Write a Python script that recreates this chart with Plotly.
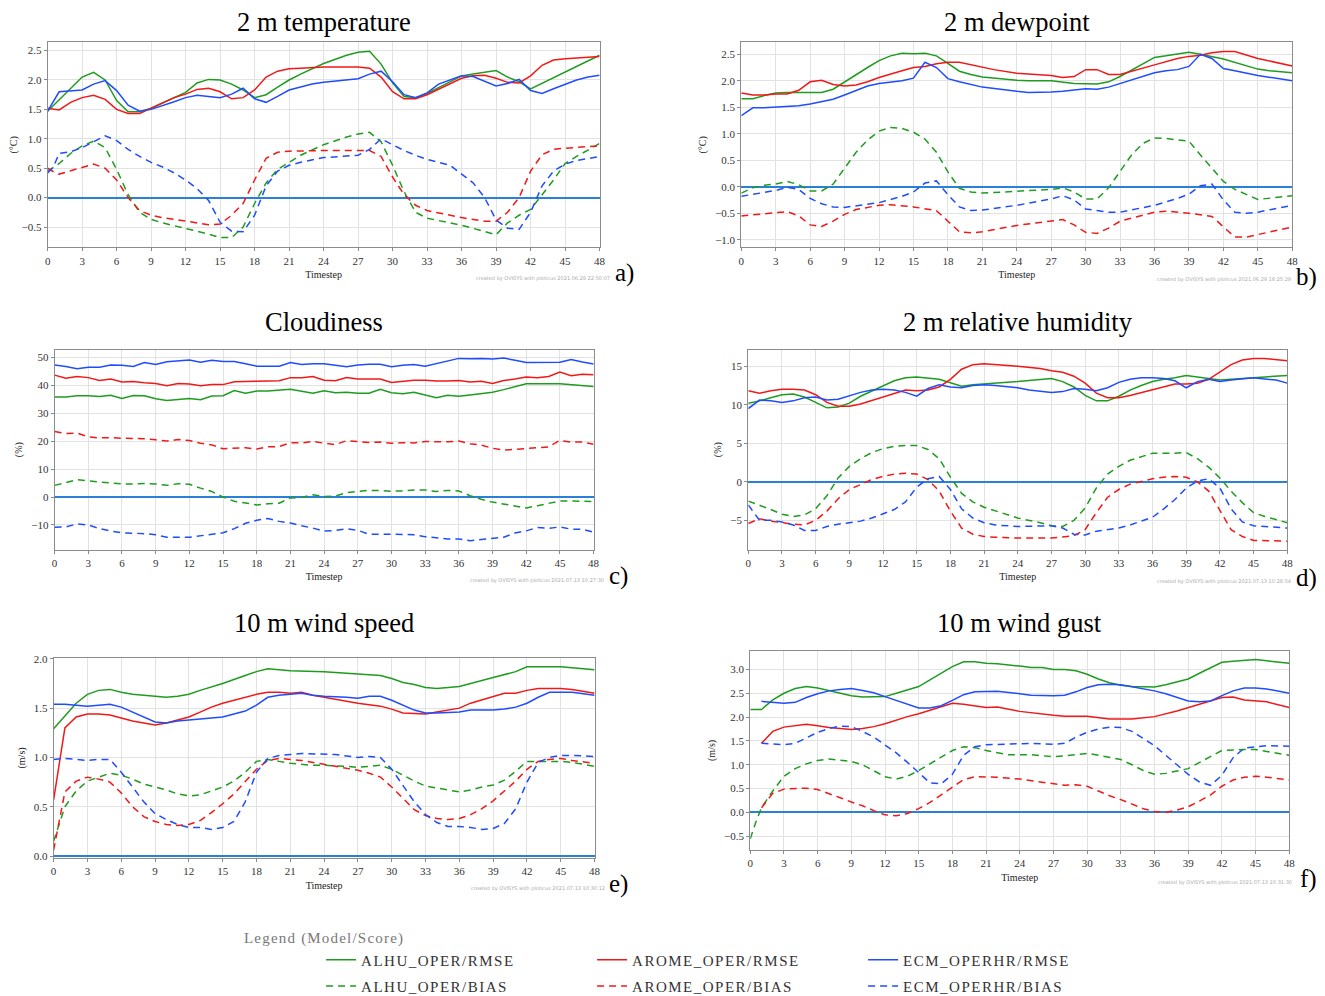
import plotly.graph_objects as go

# ---------------- data ----------------
MODELS = ["ALHU_OPER", "AROME_OPER", "ECM_OPERHR"]
SCORES = ["RMSE", "BIAS"]
X_TICKS = list(range(0, 49, 3))

# a) 2 m temperature
T2M_ALHU_RMSE = [(0,1.47),(3,2.05),(4,2.13),(5,2.0),(6,1.65),(7,1.46),(8,1.46),(9,1.52),(12,1.79),(13,1.95),(14,2.01),(15,2.0),(16,1.93),(17,1.83),(18,1.70),(19,1.75),(20,1.88),(21,2.0),(22,2.1),(24,2.28),(26,2.42),(27,2.47),(28,2.49),(29,2.27),(30,1.95),(31,1.72),(32,1.70),(33,1.77),(34,1.87),(36,2.07),(37,2.10),(39,2.16),(40,2.05),(41,1.97),(42,1.85),(48,2.42)]
T2M_AROME_RMSE = [(0,1.52),(1,1.49),(2,1.62),(3,1.70),(4,1.74),(5,1.67),(6,1.50),(7,1.43),(8,1.43),(9,1.52),(10,1.60),(11,1.70),(12,1.76),(13,1.84),(14,1.86),(15,1.80),(16,1.68),(17,1.70),(18,1.83),(19,2.05),(20,2.15),(21,2.19),(22,2.20),(24,2.22),(27,2.22),(28,2.20),(29,2.05),(30,1.80),(31,1.68),(32,1.68),(33,1.75),(36,2.03),(37,2.07),(38,2.08),(39,2.03),(40,1.96),(41,1.95),(42,2.07),(43,2.25),(44,2.34),(45,2.36),(48,2.40)]
T2M_ECM_RMSE = [(0,1.47),(1,1.80),(3,1.83),(4,1.93),(5,1.99),(6,1.82),(7,1.57),(8,1.47),(9,1.50),(10,1.56),(11,1.63),(12,1.70),(13,1.74),(14,1.72),(15,1.70),(16,1.76),(17,1.86),(18,1.68),(19,1.62),(20,1.72),(21,1.83),(22,1.88),(23,1.93),(24,1.96),(27,2.02),(28,2.10),(29,2.15),(30,1.97),(31,1.75),(32,1.70),(33,1.78),(34,1.93),(35,2.0),(36,2.07),(37,2.06),(38,1.98),(39,1.90),(40,1.94),(41,2.01),(42,1.82),(43,1.77),(44,1.85),(45,1.93),(46,2.0),(47,2.05),(48,2.08)]
T2M_ALHU_BIAS = [(0,0.45),(1,0.58),(2,0.75),(3,0.88),(4,0.96),(5,0.85),(6,0.48),(7,0.05),(8,-0.25),(9,-0.37),(10,-0.43),(12,-0.52),(14,-0.62),(15,-0.68),(16,-0.68),(17,-0.5),(18,-0.1),(19,0.25),(20,0.48),(21,0.6),(22,0.72),(24,0.90),(26,1.03),(27,1.08),(28,1.11),(29,0.95),(30,0.55),(31,0.1),(32,-0.25),(33,-0.35),(36,-0.47),(39,-0.63),(40,-0.43),(41,-0.3),(42,-0.2),(43,0.05),(44,0.3),(45,0.58),(46,0.7),(48,0.92)]
T2M_AROME_BIAS = [(0,0.50),(0.5,0.44),(1,0.40),(2,0.46),(3,0.52),(4,0.57),(5,0.50),(6,0.30),(7,0.0),(8,-0.22),(9,-0.30),(10,-0.34),(12,-0.40),(14,-0.46),(15,-0.45),(16,-0.3),(17,-0.1),(18,0.3),(19,0.67),(20,0.77),(21,0.79),(24,0.80),(28,0.80),(29,0.70),(30,0.35),(31,0.05),(32,-0.13),(33,-0.22),(36,-0.34),(38,-0.40),(39,-0.40),(40,-0.25),(41,0.0),(42,0.45),(43,0.73),(44,0.82),(45,0.84),(48,0.88)]
T2M_ECM_BIAS = [(0,0.42),(0.5,0.52),(1,0.75),(2,0.78),(3,0.85),(4,0.95),(5,1.05),(6,0.97),(7,0.82),(8,0.70),(9,0.60),(10,0.52),(11,0.42),(12,0.30),(13,0.15),(14,-0.05),(15,-0.42),(16,-0.57),(17,-0.58),(18,-0.3),(19,0.2),(20,0.45),(21,0.55),(22,0.6),(24,0.68),(27,0.72),(28,0.82),(29,1.0),(30,0.9),(31,0.8),(32,0.72),(33,0.65),(35,0.55),(36,0.40),(37,0.25),(38,0.0),(39,-0.38),(40,-0.52),(41,-0.54),(42,-0.25),(43,0.2),(44,0.45),(45,0.57),(46,0.63),(48,0.70)]

# b) 2 m dewpoint
TD_ALHU_RMSE = [(0,1.66),(1,1.66),(2,1.72),(3,1.77),(4,1.78),(5,1.78),(6,1.77),(7,1.78),(8,1.84),(9,1.98),(10,2.12),(11,2.25),(12,2.38),(13,2.47),(14,2.52),(15,2.51),(16,2.52),(17,2.47),(18,2.33),(19,2.18),(20,2.12),(21,2.07),(24,2.01),(25,2.0),(27,2.0),(28,1.98),(29,1.95),(31,1.94),(32,1.98),(33,2.08),(34,2.2),(35,2.32),(36,2.44),(37,2.47),(38,2.51),(39,2.54),(40,2.50),(42,2.41),(45,2.22),(46,2.19),(48,2.15)]
TD_AROME_RMSE = [(0,1.77),(1,1.73),(2,1.73),(3,1.75),(4,1.75),(5,1.82),(6,1.98),(7,2.01),(8,1.93),(9,1.90),(10,1.92),(11,1.98),(12,2.06),(13,2.13),(14,2.19),(15,2.25),(16,2.27),(17,2.32),(18,2.35),(19,2.35),(20,2.30),(21,2.25),(22,2.21),(24,2.14),(27,2.10),(28,2.06),(29,2.08),(30,2.21),(31,2.21),(32,2.12),(33,2.12),(36,2.30),(38,2.42),(39,2.46),(40,2.48),(41,2.53),(42,2.55),(43,2.55),(45,2.42),(48,2.28)]
TD_ECM_RMSE = [(0,1.34),(1,1.49),(2,1.49),(3,1.50),(4,1.52),(5,1.53),(6,1.56),(7,1.60),(8,1.65),(9,1.73),(10,1.82),(11,1.90),(12,1.95),(13,1.98),(14,2.0),(15,2.05),(16,2.35),(17,2.25),(18,2.04),(19,1.98),(21,1.88),(24,1.80),(25,1.78),(27,1.79),(28,1.80),(30,1.85),(31,1.84),(32,1.88),(34,2.02),(36,2.15),(37,2.19),(38,2.21),(39,2.27),(40,2.50),(41,2.42),(42,2.23),(43,2.19),(45,2.10),(48,2.00)]
TD_ALHU_BIAS = [(0,-0.12),(1,-0.02),(2,0.03),(3,0.05),(4,0.10),(5,0.04),(6,-0.08),(7,-0.08),(8,0.05),(9,0.35),(10,0.65),(11,0.88),(12,1.05),(13,1.12),(14,1.10),(15,1.03),(16,0.90),(17,0.65),(18,0.28),(19,-0.03),(20,-0.10),(21,-0.12),(24,-0.09),(25,-0.08),(27,-0.05),(28,-0.02),(29,-0.1),(30,-0.23),(31,-0.23),(32,-0.02),(33,0.3),(34,0.6),(35,0.82),(36,0.92),(37,0.91),(38,0.88),(39,0.86),(40,0.6),(41,0.35),(42,0.1),(43,-0.05),(44,-0.15),(45,-0.24),(48,-0.17)]
TD_AROME_BIAS = [(0,-0.55),(3,-0.50),(4,-0.47),(5,-0.55),(6,-0.72),(7,-0.75),(8,-0.65),(9,-0.52),(10,-0.43),(12,-0.35),(13,-0.34),(15,-0.38),(17,-0.45),(18,-0.65),(19,-0.85),(20,-0.87),(21,-0.85),(24,-0.73),(27,-0.65),(28,-0.62),(29,-0.72),(30,-0.86),(31,-0.88),(32,-0.78),(33,-0.65),(36,-0.48),(37,-0.46),(39,-0.50),(41,-0.56),(42,-0.75),(43,-0.95),(44,-0.95),(45,-0.90),(48,-0.76)]
TD_ECM_BIAS = [(0,-0.18),(3,-0.07),(4,-0.01),(5,-0.05),(6,-0.22),(7,-0.32),(8,-0.38),(9,-0.39),(12,-0.30),(14,-0.18),(15,-0.10),(16,0.07),(17,0.11),(18,-0.15),(19,-0.38),(20,-0.45),(21,-0.44),(24,-0.35),(27,-0.23),(28,-0.17),(29,-0.25),(30,-0.42),(32,-0.48),(33,-0.48),(36,-0.35),(38,-0.22),(39,-0.14),(40,0.02),(41,0.05),(42,-0.25),(43,-0.48),(44,-0.50),(45,-0.48),(48,-0.35)]

# c) Cloudiness
CL_ALHU_RMSE = [(0,35.9),(1,35.9),(2,36.3),(3,36.3),(4,36.0),(5,36.5),(6,35.3),(7,36.4),(8,36.3),(9,35.2),(10,34.6),(11,35.0),(12,35.3),(13,34.9),(14,36.2),(15,36.3),(16,38.2),(17,37.2),(18,38.0),(19,38.0),(20,38.2),(21,38.6),(22,37.9),(23,37.2),(24,38.1),(25,37.4),(26,37.6),(27,37.2),(28,37.2),(29,38.6),(30,37.4),(31,37.0),(32,37.6),(33,36.6),(34,35.6),(35,36.5),(36,36.1),(37,36.6),(38,37.1),(39,37.6),(40,38.5),(41,39.5),(42,40.6),(45,40.6),(46,40.2),(47,40.0),(48,39.6)]
CL_AROME_RMSE = [(0,43.7),(1,42.6),(2,43.2),(3,42.8),(4,41.8),(5,42.3),(6,41.2),(7,41.4),(8,41.0),(9,40.7),(10,39.9),(11,40.7),(12,40.5),(13,39.9),(14,40.3),(15,40.3),(16,41.3),(17,41.3),(18,41.5),(19,41.6),(20,41.7),(21,42.8),(22,42.8),(23,43.2),(24,41.9),(25,41.7),(26,42.8),(27,42.3),(28,42.3),(29,42.3),(30,41.1),(31,41.6),(32,41.9),(33,41.9),(34,41.6),(35,41.6),(36,41.8),(37,41.2),(38,41.5),(39,40.7),(40,41.8),(41,42.3),(42,43.0),(43,42.8),(44,43.2),(45,44.8),(46,43.5),(47,44.0),(48,43.8)]
CL_ECM_RMSE = [(0,47.3),(1,46.8),(2,46.0),(3,46.5),(4,46.5),(5,47.3),(6,47.2),(7,46.8),(8,48.2),(9,47.5),(10,48.5),(11,48.9),(12,49.1),(13,48.3),(14,49.0),(15,48.6),(16,48.6),(17,47.8),(18,46.9),(20,46.9),(21,48.2),(22,47.5),(23,47.8),(24,47.8),(25,47.3),(26,46.7),(27,47.3),(28,47.6),(29,47.6),(30,46.7),(31,47.2),(32,47.5),(33,46.9),(34,47.8),(35,48.8),(36,49.7),(37,49.6),(38,49.7),(39,49.5),(40,49.8),(41,49.0),(42,48.2),(45,48.3),(46,49.3),(47,48.4),(48,47.7)]
CL_ALHU_BIAS = [(0,4.2),(1,5.3),(2,6.2),(3,5.8),(4,5.5),(5,5.0),(6,4.7),(7,4.7),(8,4.9),(9,4.7),(10,4.2),(11,4.8),(12,4.6),(13,3.2),(14,2.0),(15,0.0),(16,-1.5),(17,-2.1),(18,-2.8),(19,-2.4),(20,-2.2),(21,-0.3),(22,-0.1),(23,0.8),(24,0.2),(25,0.4),(26,1.6),(27,2.0),(28,2.4),(29,2.4),(30,2.1),(31,2.2),(32,2.5),(33,2.5),(34,2.0),(35,2.4),(36,2.2),(37,0.5),(38,-0.8),(39,-1.8),(40,-2.5),(41,-3.2),(42,-3.9),(43,-3.1),(44,-2.3),(45,-1.4),(46,-1.4),(47,-1.5),(48,-1.6)]
CL_AROME_BIAS = [(0,23.5),(1,22.8),(2,22.9),(3,21.6),(4,21.2),(5,21.3),(6,21.1),(7,21.1),(8,20.9),(9,20.5),(10,20.1),(11,20.6),(12,20.3),(13,19.3),(14,18.7),(15,17.3),(16,17.4),(17,17.7),(18,17.2),(19,18.0),(20,18.1),(21,19.5),(22,19.4),(23,20.0),(24,19.3),(25,18.8),(26,20.2),(27,19.8),(28,19.6),(29,19.7),(30,19.3),(31,19.5),(32,19.4),(33,19.9),(34,19.9),(35,19.8),(36,20.1),(37,19.1),(38,18.6),(39,17.5),(40,16.8),(41,17.1),(42,17.2),(43,17.6),(44,18.0),(45,20.3),(46,19.7),(47,19.7),(48,18.9)]
CL_ECM_BIAS = [(0,-10.8),(1,-10.7),(2,-9.6),(3,-10.0),(4,-11.3),(5,-12.2),(6,-12.8),(7,-12.9),(8,-13.1),(9,-13.5),(10,-14.4),(12,-14.4),(13,-13.8),(14,-13.2),(15,-12.8),(16,-11.3),(17,-9.4),(18,-8.3),(19,-7.7),(20,-8.7),(21,-9.3),(22,-10.3),(23,-11.1),(24,-12.2),(25,-12.0),(26,-11.3),(27,-11.9),(28,-13.3),(29,-13.2),(30,-13.3),(31,-13.4),(32,-13.5),(33,-14.2),(34,-14.6),(35,-15.0),(36,-15.0),(37,-15.6),(38,-15.2),(39,-14.9),(40,-14.4),(41,-12.9),(42,-12.1),(43,-10.9),(44,-11.2),(45,-10.7),(46,-11.5),(47,-11.5),(48,-12.6)]

# d) 2 m relative humidity
RH_ALHU_RMSE = [(0,10.2),(1,10.5),(2,10.9),(3,11.3),(4,11.4),(5,11.0),(6,10.3),(7,9.6),(8,9.7),(9,10.2),(10,11.1),(12,12.4),(13,13.1),(14,13.5),(15,13.6),(17,13.3),(18,12.8),(19,12.4),(20,12.6),(21,12.7),(24,13.0),(27,13.4),(28,13.0),(29,12.3),(30,11.2),(31,10.5),(32,10.5),(33,11.1),(34,11.9),(35,12.5),(36,13.0),(37,13.3),(38,13.5),(39,13.8),(40,13.6),(41,13.4),(42,13.2),(45,13.5),(48,13.8)]
RH_AROME_RMSE = [(0,11.8),(1,11.5),(2,11.8),(3,12.0),(4,12.0),(5,11.9),(6,11.3),(7,10.3),(8,9.8),(9,9.8),(10,10.1),(12,11.0),(14,11.9),(15,11.8),(16,11.9),(17,12.3),(18,13.3),(19,14.6),(20,15.2),(21,15.3),(22,15.2),(24,15.0),(26,14.7),(27,14.4),(28,14.2),(29,13.7),(30,12.8),(31,11.5),(32,10.9),(33,10.9),(34,11.2),(36,12.0),(38,12.7),(39,12.7),(40,12.8),(41,13.3),(42,14.2),(43,15.2),(44,15.8),(45,16.0),(46,16.0),(48,15.7)]
RH_ECM_RMSE = [(0,9.5),(1,10.6),(2,10.5),(3,10.3),(4,10.5),(5,10.9),(6,11.0),(7,10.6),(8,10.7),(9,11.2),(10,11.6),(11,11.9),(12,12.0),(13,11.9),(14,11.6),(15,11.1),(16,12.1),(17,12.6),(18,12.3),(19,12.2),(20,12.5),(21,12.6),(22,12.5),(24,12.2),(25,11.9),(27,11.6),(28,11.7),(29,12.1),(30,12.0),(31,11.8),(32,12.2),(33,12.9),(34,13.3),(35,13.5),(36,13.5),(37,13.4),(38,13.1),(39,12.2),(40,13.0),(41,13.3),(42,13.0),(43,13.2),(45,13.5),(47,13.2),(48,12.8)]
RH_ALHU_BIAS = [(0,-2.5),(1,-3.0),(2,-3.6),(3,-4.2),(4,-4.5),(5,-4.3),(6,-3.5),(7,-1.8),(8,0.5),(9,2.0),(10,3.0),(11,3.8),(12,4.3),(13,4.6),(14,4.7),(15,4.7),(16,4.2),(17,3.0),(18,0.6),(19,-1.5),(20,-2.6),(21,-3.3),(22,-3.8),(24,-4.7),(26,-5.3),(27,-5.7),(28,-5.8),(29,-5.0),(30,-3.4),(31,-0.8),(32,1.0),(33,2.0),(34,2.8),(35,3.3),(36,3.7),(38,3.7),(39,3.8),(40,3.0),(41,1.9),(42,0.5),(43,-1.2),(44,-2.7),(45,-4.0),(46,-4.5),(47,-4.9),(48,-5.3)]
RH_AROME_BIAS = [(0,-5.4),(1,-4.8),(2,-5.1),(3,-5.3),(4,-5.5),(5,-5.6),(6,-5.0),(7,-3.8),(8,-2.2),(9,-1.0),(10,-0.3),(11,0.3),(12,0.7),(13,1.0),(14,1.1),(15,1.0),(16,0.3),(17,-1.2),(18,-3.8),(19,-6.0),(20,-6.8),(21,-7.1),(22,-7.2),(24,-7.3),(27,-7.3),(29,-7.0),(30,-6.2),(31,-4.0),(32,-2.0),(33,-1.0),(34,-0.3),(35,0.1),(36,0.4),(37,0.6),(38,0.7),(39,0.6),(40,0.0),(41,-1.2),(42,-3.8),(43,-6.2),(44,-7.1),(45,-7.6),(48,-7.7)]
RH_ECM_BIAS = [(0,-3.0),(1,-5.0),(2,-5.0),(3,-5.2),(4,-5.6),(5,-6.3),(6,-6.3),(7,-5.8),(8,-5.5),(9,-5.3),(10,-5.1),(11,-4.7),(12,-4.2),(13,-3.6),(14,-2.6),(15,-0.7),(16,0.4),(17,0.7),(18,-1.0),(19,-3.5),(20,-4.7),(21,-5.3),(22,-5.6),(24,-5.8),(27,-5.7),(28,-6.0),(29,-6.8),(30,-6.9),(31,-6.4),(33,-6.0),(34,-5.6),(35,-5.1),(36,-4.6),(37,-3.5),(38,-2.3),(39,-0.8),(40,0.1),(41,0.4),(42,-0.8),(43,-3.5),(44,-5.2),(45,-5.7),(48,-6.0)]

# e) 10 m wind speed
WS_ALHU_RMSE = [(0,1.29),(1,1.42),(2,1.55),(3,1.64),(4,1.68),(5,1.69),(6,1.66),(7,1.64),(8,1.63),(9,1.62),(10,1.61),(11,1.62),(12,1.64),(13,1.68),(15,1.75),(17,1.83),(18,1.87),(19,1.90),(20,1.89),(21,1.88),(24,1.87),(27,1.85),(29,1.83),(30,1.80),(31,1.76),(32,1.74),(33,1.71),(34,1.70),(36,1.72),(39,1.81),(41,1.87),(42,1.92),(45,1.92),(48,1.89)]
WS_AROME_RMSE = [(0,0.57),(1,1.30),(2,1.41),(3,1.44),(4,1.44),(5,1.43),(6,1.40),(7,1.37),(8,1.35),(9,1.33),(10,1.35),(12,1.41),(13,1.46),(14,1.51),(15,1.55),(17,1.61),(18,1.64),(19,1.66),(20,1.66),(21,1.65),(22,1.66),(23,1.63),(24,1.61),(27,1.55),(29,1.52),(30,1.49),(31,1.45),(33,1.44),(34,1.46),(36,1.50),(37,1.55),(39,1.62),(40,1.65),(41,1.65),(42,1.68),(43,1.70),(45,1.70),(46,1.69),(48,1.65)]
WS_ECM_RMSE = [(0,1.54),(1,1.54),(2,1.53),(3,1.52),(4,1.53),(5,1.54),(6,1.51),(7,1.46),(8,1.41),(9,1.36),(10,1.35),(11,1.37),(12,1.38),(13,1.39),(14,1.40),(15,1.41),(16,1.44),(17,1.47),(18,1.53),(19,1.61),(20,1.63),(21,1.64),(22,1.65),(23,1.63),(24,1.62),(26,1.61),(27,1.60),(28,1.62),(29,1.62),(30,1.58),(31,1.53),(32,1.48),(33,1.45),(34,1.45),(36,1.46),(37,1.48),(39,1.48),(40,1.49),(41,1.51),(42,1.55),(43,1.61),(44,1.66),(46,1.66),(48,1.63)]
WS_ALHU_BIAS = [(0,0.15),(1,0.50),(2,0.66),(3,0.76),(4,0.80),(5,0.84),(6,0.82),(7,0.78),(8,0.73),(9,0.70),(10,0.67),(11,0.63),(12,0.61),(13,0.62),(14,0.66),(15,0.70),(16,0.76),(17,0.85),(18,0.96),(19,0.98),(20,0.96),(21,0.94),(23,0.92),(24,0.92),(26,0.91),(27,0.90),(28,0.91),(29,0.92),(30,0.88),(31,0.82),(32,0.76),(33,0.71),(34,0.69),(35,0.67),(36,0.65),(37,0.67),(38,0.70),(39,0.72),(40,0.77),(41,0.86),(42,0.96),(45,0.96),(46,0.95),(48,0.91)]
WS_AROME_BIAS = [(0,0.06),(1,0.65),(2,0.76),(3,0.80),(4,0.78),(5,0.75),(6,0.64),(7,0.50),(8,0.40),(9,0.35),(10,0.32),(11,0.31),(12,0.32),(13,0.36),(14,0.44),(15,0.53),(16,0.63),(17,0.75),(18,0.88),(19,0.97),(20,0.99),(21,0.98),(22,0.97),(24,0.93),(27,0.87),(28,0.84),(29,0.80),(30,0.70),(31,0.58),(32,0.47),(33,0.41),(34,0.38),(35,0.37),(36,0.38),(37,0.42),(38,0.48),(39,0.56),(40,0.66),(41,0.76),(42,0.88),(43,0.96),(44,0.98),(45,0.99),(46,0.97),(48,0.94)]
WS_ECM_BIAS = [(0,0.98),(1,0.99),(2,0.98),(3,0.97),(4,0.98),(5,0.98),(6,0.85),(7,0.70),(8,0.55),(9,0.43),(10,0.37),(11,0.32),(12,0.29),(13,0.29),(14,0.27),(15,0.29),(16,0.35),(17,0.55),(18,0.85),(19,0.99),(20,1.02),(21,1.03),(22,1.04),(25,1.03),(27,1.00),(28,1.01),(29,1.00),(30,0.88),(31,0.72),(32,0.55),(33,0.42),(34,0.34),(35,0.30),(36,0.30),(37,0.29),(38,0.27),(39,0.28),(40,0.33),(41,0.48),(42,0.75),(43,0.95),(44,1.00),(45,1.02),(46,1.02),(48,1.01)]

# f) 10 m wind gust
WG_ALHU_RMSE = [(0,2.16),(1,2.16),(2,2.36),(3,2.50),(4,2.60),(5,2.64),(6,2.61),(7,2.56),(8,2.50),(9,2.45),(10,2.42),(11,2.42),(12,2.43),(13,2.50),(15,2.64),(16,2.78),(17,2.92),(18,3.06),(19,3.16),(20,3.16),(21,3.13),(22,3.12),(24,3.07),(25,3.04),(26,3.04),(27,3.00),(28,3.00),(29,2.97),(30,2.90),(31,2.80),(32,2.72),(33,2.67),(34,2.64),(36,2.63),(37,2.68),(39,2.80),(40,2.92),(41,3.03),(42,3.15),(43,3.17),(45,3.21),(46,3.18),(48,3.13)]
WG_AROME_RMSE = [(1,1.45),(2,1.70),(3,1.79),(4,1.82),(5,1.85),(6,1.82),(7,1.78),(8,1.76),(9,1.74),(10,1.76),(11,1.80),(12,1.86),(13,1.94),(14,2.01),(15,2.07),(16,2.14),(17,2.22),(18,2.29),(19,2.27),(20,2.24),(21,2.20),(22,2.21),(24,2.12),(27,2.04),(28,2.02),(30,2.02),(32,1.96),(34,1.96),(36,2.01),(38,2.13),(39,2.20),(40,2.26),(41,2.33),(42,2.41),(43,2.42),(44,2.36),(46,2.32),(48,2.20)]
WG_ECM_RMSE = [(1,2.33),(2,2.31),(3,2.29),(4,2.31),(5,2.41),(6,2.49),(7,2.55),(8,2.58),(9,2.60),(10,2.56),(11,2.51),(12,2.43),(13,2.35),(14,2.27),(15,2.19),(16,2.19),(17,2.24),(18,2.35),(19,2.47),(20,2.53),(22,2.54),(24,2.49),(25,2.46),(27,2.45),(28,2.46),(29,2.53),(30,2.62),(31,2.68),(32,2.69),(33,2.68),(34,2.64),(36,2.55),(37,2.49),(39,2.34),(40,2.32),(41,2.34),(42,2.45),(43,2.55),(44,2.61),(45,2.61),(46,2.59),(48,2.50)]
WG_ALHU_BIAS = [(0,-0.55),(0.5,-0.2),(1,0.1),(2,0.45),(3,0.76),(4,0.92),(5,1.02),(6,1.09),(7,1.12),(8,1.10),(9,1.07),(10,1.00),(11,0.88),(12,0.75),(13,0.70),(14,0.76),(15,0.88),(16,1.02),(17,1.15),(18,1.30),(19,1.38),(20,1.36),(21,1.30),(22,1.25),(23,1.21),(25,1.21),(27,1.17),(28,1.19),(29,1.22),(30,1.24),(31,1.20),(33,1.11),(34,1.00),(35,0.88),(36,0.80),(37,0.82),(39,0.92),(40,1.05),(41,1.18),(42,1.30),(44,1.32),(45,1.32),(46,1.28),(48,1.20)]
WG_AROME_BIAS = [(1,0.10),(2,0.40),(3,0.49),(4,0.50),(5,0.51),(6,0.48),(7,0.40),(8,0.31),(9,0.22),(10,0.14),(11,0.04),(12,-0.05),(13,-0.07),(14,-0.02),(15,0.08),(16,0.21),(17,0.37),(18,0.53),(19,0.69),(20,0.75),(21,0.75),(22,0.74),(24,0.70),(26,0.63),(27,0.60),(28,0.57),(29,0.58),(30,0.55),(31,0.45),(32,0.35),(33,0.27),(34,0.17),(35,0.08),(36,0.02),(37,0.00),(38,0.05),(39,0.12),(40,0.24),(41,0.37),(42,0.55),(43,0.68),(44,0.74),(45,0.76),(46,0.74),(48,0.68)]
WG_ECM_BIAS = [(1,1.45),(2,1.43),(3,1.42),(4,1.45),(5,1.57),(6,1.68),(7,1.76),(8,1.81),(9,1.80),(10,1.70),(11,1.58),(12,1.42),(13,1.25),(14,1.05),(15,0.83),(16,0.62),(17,0.60),(18,0.80),(19,1.20),(20,1.38),(21,1.42),(22,1.43),(24,1.45),(25,1.45),(27,1.43),(28,1.45),(29,1.58),(30,1.68),(31,1.75),(32,1.79),(33,1.78),(34,1.70),(35,1.55),(36,1.40),(37,1.20),(38,1.00),(39,0.80),(40,0.64),(41,0.57),(42,0.78),(43,1.15),(44,1.35),(45,1.38),(46,1.40),(48,1.39)]

PANEL_TITLES = ["2 m temperature", "2 m dewpoint", "Cloudiness",
                "2 m relative humidity", "10 m wind speed", "10 m wind gust"]
PANEL_UNITS = ["(\u00b0C)", "(\u00b0C)", "(%)", "(%)", "(m/s)", "(m/s)"]
PANEL_LETTERS = ["a)", "b)", "c)", "d)", "e)", "f)"]
PANEL_CREDITS = ["2021.06.29 22:50:07", "2021.06.29 18:25:29", "2021.07.13 10:27:30",
                 "2021.07.13 10:28:54", "2021.07.13 10:30:12", "2021.07.13 10:31:30"]
PANEL_YTICKS = [[-0.5, 0.0, 0.5, 1.0, 1.5, 2.0, 2.5],
                [-1.0, -0.5, 0.0, 0.5, 1.0, 1.5, 2.0, 2.5],
                [-10, 0, 10, 20, 30, 40, 50],
                [-5, 0, 5, 10, 15],
                [0.0, 0.5, 1.0, 1.5, 2.0],
                [-0.5, 0.0, 0.5, 1.0, 1.5, 2.0, 2.5, 3.0]]
PANEL_YRANGES = [(-0.847, 2.642), (-1.145, 2.727), (-18.86, 52.87),
                 (-8.81, 17.16), (-0.02, 2.01), (-0.787, 3.39)]
PANEL_SERIES = [
    {"ALHU_OPER": (T2M_ALHU_RMSE, T2M_ALHU_BIAS), "AROME_OPER": (T2M_AROME_RMSE, T2M_AROME_BIAS), "ECM_OPERHR": (T2M_ECM_RMSE, T2M_ECM_BIAS)},
    {"ALHU_OPER": (TD_ALHU_RMSE, TD_ALHU_BIAS), "AROME_OPER": (TD_AROME_RMSE, TD_AROME_BIAS), "ECM_OPERHR": (TD_ECM_RMSE, TD_ECM_BIAS)},
    {"ALHU_OPER": (CL_ALHU_RMSE, CL_ALHU_BIAS), "AROME_OPER": (CL_AROME_RMSE, CL_AROME_BIAS), "ECM_OPERHR": (CL_ECM_RMSE, CL_ECM_BIAS)},
    {"ALHU_OPER": (RH_ALHU_RMSE, RH_ALHU_BIAS), "AROME_OPER": (RH_AROME_RMSE, RH_AROME_BIAS), "ECM_OPERHR": (RH_ECM_RMSE, RH_ECM_BIAS)},
    {"ALHU_OPER": (WS_ALHU_RMSE, WS_ALHU_BIAS), "AROME_OPER": (WS_AROME_RMSE, WS_AROME_BIAS), "ECM_OPERHR": (WS_ECM_RMSE, WS_ECM_BIAS)},
    {"ALHU_OPER": (WG_ALHU_RMSE, WG_ALHU_BIAS), "AROME_OPER": (WG_AROME_RMSE, WG_AROME_BIAS), "ECM_OPERHR": (WG_ECM_RMSE, WG_ECM_BIAS)},
]

# ---------------- styling / layout ----------------
W, H = 1325, 996
# the page shows the figure slightly offset and scaled; these compensate so that
# positions given in target-image pixels land where intended
OFF_X, SCALE_X = 10.3, 0.9936
OFF_Y, SCALE_Y = 12.8, 0.990
COLORS = {"ALHU_OPER": "#1f9c1f", "AROME_OPER": "#f21818", "ECM_OPERHR": "#1f4cff"}
ZERO_COLOR = "#2a7fd8"
SERIF = "Liberation Serif, Times New Roman, serif"
SANS = "DejaVu Sans, sans-serif"
BIAS_DASH = "7px,5px"

# plot-area boxes in target pixels: (left, right, top, bottom)
BOXES = [(45, 598, 42, 247), (740, 1292, 42, 247),
         (52, 592, 349, 549), (747, 1287, 349, 549),
         (51, 593, 657, 857), (749, 1289, 650, 849)]
TITLE_Y = [22, 22, 321, 321, 622, 622]
# panel letters: (x, y, anchor) ; right-column letters are right-anchored to stay on the page
LETTER_POS = [(611, 273, "left"), (1319, 277, "right"), (605, 575, "left"),
              (1319, 577, "right"), (605, 883, "left"), (1319, 878, "right")]
CREDIT_POS = [(610, 278), (1293, 279), (604, 580), (1293, 581), (605, 887), (1294, 881)]


def px_x(v):
    return ((v - OFF_X) / SCALE_X) / W


def px_y(v):
    return 1 - ((v - OFF_Y) / SCALE_Y) / H


def spaced(text, spacing):
    return f'<span style="letter-spacing:{spacing}px">{text}</span>'


fig = go.Figure()
layout_axes = {}
annotations = []

for i, box in enumerate(BOXES):
    left, right, top, bottom = box
    n = "" if i == 0 else str(i + 1)
    xa, ya = "x" + n, "y" + n
    for model in MODELS:
        rmse, bias = PANEL_SERIES[i][model]
        for score, series in zip(SCORES, (rmse, bias)):
            fig.add_trace(go.Scatter(
                x=[p[0] for p in series], y=[p[1] for p in series],
                mode="lines", name=spaced(f"{model}/{score}", 1.5),
                line=dict(color=COLORS[model], width=1.5,
                          dash="solid" if score == "RMSE" else BIAS_DASH),
                xaxis=xa, yaxis=ya,
                legend="legend" if score == "RMSE" else "legend2",
                legendgroup=f"{model}/{score}",
                showlegend=(i == 0),
                hoverinfo="skip",
            ))
    layout_axes["xaxis" + n] = dict(
        domain=[px_x(left), px_x(right)], anchor=ya, range=[0, 48],
        tickvals=X_TICKS, ticks="outside", ticklen=3, tickcolor="#888",
        showgrid=True, gridcolor="#e2e2e2", gridwidth=1,
        showline=True, mirror=True, linecolor="#8c8c8c", linewidth=1,
        zeroline=False,
        tickfont=dict(family=SERIF, size=11, color="#333"),
        title=dict(text="Timestep", font=dict(family=SERIF, size=10, color="#222"), standoff=5),
    )
    ytick = PANEL_YTICKS[i]
    fmt = "d" if i in (2, 3) else ".1f"
    layout_axes["yaxis" + n] = dict(
        domain=[px_y(bottom), px_y(top)], anchor=xa, range=list(PANEL_YRANGES[i]),
        tickvals=ytick, tickformat=fmt, ticks="outside", ticklen=3, tickcolor="#888",
        showgrid=True, gridcolor="#e2e2e2", gridwidth=1,
        showline=True, mirror=True, linecolor="#8c8c8c", linewidth=1,
        zeroline=True, zerolinecolor=ZERO_COLOR, zerolinewidth=1.5,
        tickfont=dict(family=SERIF, size=11, color="#333"),
        title=dict(text=PANEL_UNITS[i], font=dict(family=SERIF, size=10, color="#222"), standoff=6),
    )
    cx = (left + right) / 2
    annotations.append(dict(
        text=PANEL_TITLES[i], x=px_x(cx), y=px_y(TITLE_Y[i]), xref="paper", yref="paper",
        xanchor="center", yanchor="middle", showarrow=False,
        font=dict(family=SERIF, size=26.5, color="#000")))
    lx, ly, lanchor = LETTER_POS[i]
    annotations.append(dict(
        text=PANEL_LETTERS[i], x=px_x(lx), y=px_y(ly), xref="paper", yref="paper",
        xanchor=lanchor, yanchor="middle", showarrow=False,
        font=dict(family=SERIF, size=25, color="#000")))
    crx, cry = CREDIT_POS[i]
    annotations.append(dict(
        text="created by OVISYS with ploticus " + PANEL_CREDITS[i],
        x=px_x(crx), y=px_y(cry), xref="paper", yref="paper",
        xanchor="right", yanchor="middle", showarrow=False,
        font=dict(family=SANS, size=5, color="#aaa")))

annotations.append(dict(
    text=spaced("Legend (Model/Score)", 1.2), x=px_x(240), y=px_y(937), xref="paper", yref="paper",
    xanchor="left", yanchor="middle", showarrow=False,
    font=dict(family=SERIF, size=15, color="#777")))

legend_common = dict(
    orientation="h", xanchor="left", yanchor="middle",
    entrywidth=226, entrywidthmode="pixels", itemwidth=30,
    font=dict(family=SERIF, size=15, color="#333"),
    bgcolor="rgba(0,0,0,0)", borderwidth=0, traceorder="normal",
)

fig.update_layout(
    width=W, height=H, margin=dict(l=0, r=0, t=0, b=0),
    paper_bgcolor="white", plot_bgcolor="white",
    showlegend=True,
    legend=dict(x=px_x(319), y=px_y(959), **legend_common),
    legend2=dict(x=px_x(319), y=px_y(985), **legend_common),
    annotations=annotations,
    **layout_axes,
)

fig.write_html("out.html")
